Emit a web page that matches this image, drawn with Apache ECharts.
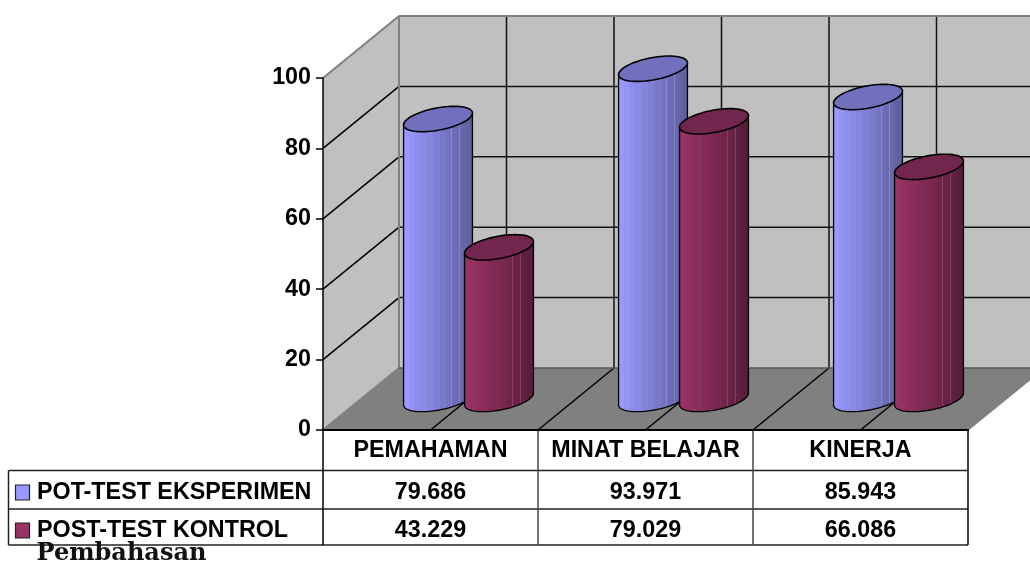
<!DOCTYPE html>
<html>
<head>
<meta charset="utf-8">
<style>html,body{margin:0;padding:0;background:#fff}#c{width:1030px;height:563px}</style>
<script src="https://cdn.jsdelivr.net/npm/echarts@6/dist/echarts.min.js"></script>
</head>
<body>
<div id="c"></div>
<script>
var categories = ['PEMAHAMAN', 'MINAT BELAJAR', 'KINERJA'];
var seriesNames = ['POT-TEST EKSPERIMEN', 'POST-TEST KONTROL'];
var eksperimen = [79.686, 93.971, 85.943];
var kontrol = [43.229, 79.029, 66.086];
var yTicks = [0, 20, 40, 60, 80, 100];
var caption = 'Pembahasan';

var FONT = '"Liberation Sans", Arial, sans-serif';
var FS = 23.3;
var DX = 76, DY = -62;            // depth of the 3D box
var BAR_W = 61 / 215;             // bar width, fraction of category band
var ELL_B = 16, ELL_C = 12.7;     // ellipse depth terms
var palettes = [
  {front: '#9999FF', dark: '#5C5C99', top: '#7070BF', hi: '#A9A9F5'},
  {front: '#993366', dark: '#551C39', top: '#73264D', hi: '#B0688A'}
];

function mix(a, b, t) {
  var p = function (s, i) { return parseInt(s.substr(i, 2), 16); };
  var out = '#';
  [1, 3, 5].forEach(function (i) {
    var v = Math.round(p(a, i) + (p(b, i) - p(a, i)) * t);
    out += (v < 16 ? '0' : '') + v.toString(16);
  });
  return out;
}
function bodyGradient(pal) {
  var edges = [0, .08, .16, .24, .33, .43, .53, .62, .70, .76, .81, .85, .89, .92, .95, .98, 1];
  var stops = [];
  for (var i = 0; i < edges.length - 1; i++) {
    var c = mix(pal.front, pal.dark, edges[i]);
    var s = edges[i], e = edges[i + 1];
    stops.push({offset: s, color: c});
    if (i === 4 || i === 7 || i === 9) {
      stops.push({offset: e - .008, color: c});
      stops.push({offset: e - .008, color: mix(c, pal.hi, .4)});
      stops.push({offset: e, color: mix(c, pal.hi, .4)});
    } else {
      stops.push({offset: e, color: c});
    }
  }
  return {type: 'linear', x: 0, y: 0, x2: 1, y2: 0, colorStops: stops};
}

function line(x1, y1, x2, y2, color, w) {
  return {type: 'line', shape: {x1: x1, y1: y1, x2: x2, y2: y2},
    style: {stroke: color, lineWidth: w}, silent: true};
}
function poly(pts, fill, stroke, w) {
  return {type: 'polygon', shape: {points: pts},
    style: {fill: fill, stroke: stroke || null, lineWidth: w || 0}, silent: true};
}
function txt(x, y, s, align, extra) {
  return {type: 'text', x: x, y: y, silent: true, style: Object.assign({
    text: s, align: align, verticalAlign: 'middle', fill: '#000',
    font: 'bold ' + FS + 'px ' + FONT}, extra || {})};
}

function renderBox(params, api) {
  var band = api.size([1, 0])[0];
  var x0 = api.coord([0, 0])[0] - band / 2;
  var x1 = x0 + band * categories.length;
  var yB = api.coord([0, yTicks[0]])[1];
  var yT = api.coord([0, yTicks[yTicks.length - 1]])[1];
  var kids = [
    poly([[x0, yT], [x0 + DX, yT + DY], [x0 + DX, yB + DY], [x0, yB]], '#C0C0C0'),
    poly([[x0 + DX, yT + DY], [x1 + DX, yT + DY], [x1 + DX, yB + DY], [x0 + DX, yB + DY]], '#C0C0C0'),
    poly([[x0, yB], [x0 + DX, yB + DY], [x1 + DX, yB + DY], [x1, yB]], '#808080')
  ];
  yTicks.slice(1, -1).forEach(function (v) {
    var y = api.coord([0, v])[1];
    kids.push(line(x0, y, x0 + DX, y + DY, '#000', 1.5));
    kids.push(line(x0 + DX, y + DY, x1 + DX, y + DY, '#111', 1.5));
  });
  for (var i = 1; i < categories.length * 2; i++) {
    var x = x0 + band * i / 2;
    kids.push(line(x + DX, yT + DY, x + DX, yB + DY, '#111', 1.5));
    kids.push(line(x, yB, x + DX, yB + DY, '#000', 1.5));
  }
  kids.push(line(x0 + DX, yT + DY, x1 + DX, yT + DY, '#808080', 2));
  kids.push(line(x0, yT, x0 + DX, yT + DY, '#808080', 2));
  kids.push(line(x0 + DX, yT + DY, x0 + DX, yB + DY, '#808080', 2));
  kids.push(line(x0, yB, x0 + DX, yB + DY, '#808080', 2));
  kids.push(line(x0 + DX, yB + DY, x1 + DX, yB + DY, '#555', 1.5));
  kids.push(line(x1, yB, x1 + DX, yB + DY, '#808080', 1.5));
  return {type: 'group', children: kids};
}

function makeBar(si) {
  var pal = palettes[si];
  var fill = bodyGradient(pal);
  return function (params, api) {
    var band = api.size([1, 0])[0];
    var a = band * BAR_W / 2;
    var off = (si === 0 ? -1 : 1) * a;
    var base = api.coord([api.value(0), 0]);
    var tip = api.coord([api.value(0), api.value(1)]);
    var cx = base[0] + off + DX / 2;
    var yBase = base[1] + DY / 2;
    var yTop = tip[1] + DY / 2 + 0.5;
    var t0 = Math.atan2(ELL_B, a);
    function P(t, cy) {
      return [cx + a * Math.cos(t) + ELL_B * Math.sin(t), cy - ELL_C * Math.sin(t)];
    }
    var body = [], top = [], n = 48, k;
    for (k = 0; k <= n; k++) body.push(P(t0 - Math.PI * k / n, yBase));
    body.push(P(t0 - Math.PI, yTop));
    body.push(P(t0, yTop));
    for (k = 0; k < 72; k++) top.push(P(2 * Math.PI * k / 72, yTop));
    return {type: 'group', children: [
      poly(body, fill, '#000', 1.3),
      poly(top, pal.top, '#000', 1.6)
    ]};
  };
}

function renderTable(params, api) {
  var band = api.size([1, 0])[0];
  var x0 = api.coord([0, 0])[0] - band / 2;
  var x1 = x0 + band * categories.length;
  var rows = [430, 470.5, 509, 545], LEFT = 8.5;
  var kids = [
    line(LEFT, rows[1], x1, rows[1], '#222', 1.5),
    line(LEFT, rows[2], x1, rows[2], '#222', 1.5),
    line(LEFT, rows[3], x1, rows[3], '#222', 1.5),
    line(LEFT, rows[1], LEFT, rows[3], '#222', 1.5),
    line(x1, rows[0], x1, rows[3], '#000', 1.5),
    line(x0, rows[0], x0, rows[3], '#000', 1.5)
  ];
  for (var i = 1; i < categories.length; i++) {
    kids.push(line(x0 + band * i, rows[0], x0 + band * i, rows[3], '#444', 1.5));
  }
  var data = [eksperimen, kontrol];
  var cy = [493, 531];
  seriesNames.forEach(function (name, si) {
    kids.push({type: 'rect', shape: {x: 15.5, y: cy[si] - 8, width: 14, height: 15}, silent: true,
      style: {fill: palettes[si].front, stroke: '#222', lineWidth: 1.2}});
    kids.push(txt(37, cy[si], name, 'left'));
    data[si].forEach(function (v, c) {
      kids.push(txt(x0 + band * (c + .5), cy[si], v.toFixed(3), 'center'));
    });
  });
  kids.push(txt(36.5, 554, caption, 'left', {font: 'bold 24px "DejaVu Serif", serif', fill: '#111'}));
  return {type: 'group', children: kids};
}

var chart = echarts.init(document.getElementById('c'), null, {renderer: 'canvas'});
chart.setOption({
  animation: false,
  backgroundColor: '#fff',
  tooltip: {show: false},
  grid: {left: 323, top: 78, width: 645, height: 352},
  xAxis: {
    type: 'category', data: categories, z: 10,
    axisLine: {lineStyle: {color: '#000', width: 2}},
    axisTick: {show: false},
    axisLabel: {interval: 0, margin: 9, color: '#000', fontFamily: FONT, fontWeight: 'bold', fontSize: FS}
  },
  yAxis: {
    type: 'value', min: 0, max: 100, interval: 20, z: 10,
    axisLine: {show: true, lineStyle: {color: '#000', width: 1.5}},
    axisTick: {show: true, length: 7, lineStyle: {color: '#000', width: 1.5}},
    splitLine: {show: false},
    axisLabel: {margin: 12, color: '#000', fontFamily: FONT, fontWeight: 'bold', fontSize: FS}
  },
  series: [
    {type: 'custom', name: 'box', data: [[0, 0]], renderItem: renderBox, silent: true, z: 1,
      encode: {x: 0, y: 1}},
    {type: 'custom', name: seriesNames[0], z: 2, silent: true, renderItem: makeBar(0),
      encode: {x: 0, y: 1},
      data: eksperimen.map(function (v, i) { return [i, v]; })},
    {type: 'custom', name: seriesNames[1], z: 3, silent: true, renderItem: makeBar(1),
      encode: {x: 0, y: 1},
      data: kontrol.map(function (v, i) { return [i, v]; })},
    {type: 'custom', name: 'table', data: [[0, 0]], renderItem: renderTable, silent: true, z: 4,
      encode: {x: 0, y: 1}}
  ]
});
</script>
</body>
</html>
